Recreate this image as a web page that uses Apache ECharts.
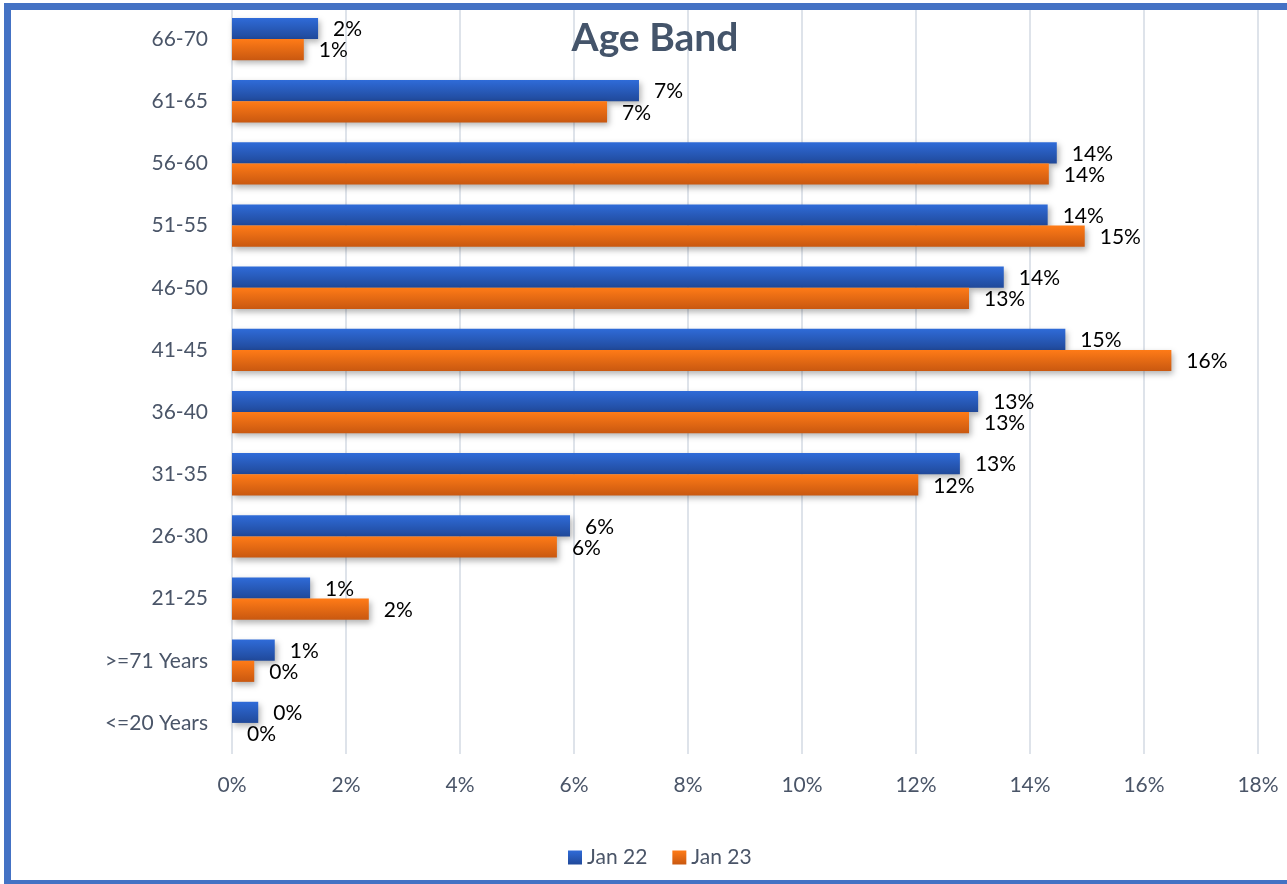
<!DOCTYPE html>
<html>
<head>
<meta charset="utf-8">
<script src="https://cdn.jsdelivr.net/npm/echarts@6/dist/echarts.min.js"></script>
<style>
  html, body { margin: 0; padding: 0; background: #fff; overflow: hidden; }
  #wrap { position: relative; width: 1287px; height: 884px; overflow: hidden; }
  #chart { position: absolute; left: 0; top: 0; width: 1287px; height: 884px; }
  /* blue frame; its right edge runs past the page */
  #frame {
    position: absolute; left: 4px; top: 3px; width: 1400px; height: 870px;
    border: 7px solid #4472C4; border-right: none; pointer-events: none;
  }
</style>
</head>
<body>
<div id="wrap">
  <div id="chart"></div>
  <div id="frame"></div>
</div>
<script>
// Age bands, listed from the bottom of the chart to the top
const categories = ['<=20 Years', '>=71 Years', '21-25', '26-30', '31-35', '36-40',
                    '41-45', '46-50', '51-55', '56-60', '61-65', '66-70'];

// Share of headcount per age band (%)
const jan22 = [0.46, 0.75, 1.37, 5.93, 12.77, 13.09, 14.62, 13.54, 14.31, 14.47, 7.14, 1.51];
const jan23 = [0.00, 0.39, 2.40, 5.70, 12.04, 12.93, 16.48, 12.93, 14.96, 14.33, 6.58, 1.26];

// Percent axis ticks
const xTicks = [0, 2, 4, 6, 8, 10, 12, 14, 16, 18];

const FONT = 'Lato, "Open Sans", sans-serif';
const AXIS_TEXT = '#4A5568';

function vGrad(top, bottom) {
  return new echarts.graphic.LinearGradient(0, 0, 0, 1, [
    { offset: 0, color: top },
    { offset: 1, color: bottom }
  ]);
}

const barLabel = {
  show: true,
  position: 'right',
  distance: 15,
  offset: [0, 1],
  color: '#000',
  fontFamily: FONT,
  fontSize: 21,
  formatter: p => Math.round(p.value) + '%'
};

const shadow = {
  shadowBlur: 6,
  shadowOffsetX: 2,
  shadowOffsetY: 3,
  shadowColor: 'rgba(0,0,0,0.30)'
};

const chart = echarts.init(document.getElementById('chart'), null, { renderer: 'canvas' });

chart.setOption({
  animation: false,
  backgroundColor: '#fff',
  textStyle: { fontFamily: FONT },
  title: {
    text: 'Age Band',
    left: 650,
    textAlign: 'center',
    top: 14,
    textStyle: { fontFamily: FONT, fontSize: 39, fontWeight: 'bold', color: '#44546A' }
  },
  legend: {
    left: 563,
    top: 842,
    itemWidth: 14,
    itemHeight: 14,
    itemGap: 25,
    icon: 'rect',
    textStyle: { fontFamily: FONT, fontSize: 21, color: AXIS_TEXT },
    data: ['Jan 22', 'Jan 23']
  },
  grid: { left: 232, right: 29, top: 8, bottom: 130, containLabel: false },
  xAxis: {
    type: 'value',
    min: xTicks[0],
    max: xTicks[xTicks.length - 1],
    interval: xTicks[1] - xTicks[0],
    axisLine: { show: false },
    axisTick: { show: false },
    axisLabel: { margin: 21, color: AXIS_TEXT, fontFamily: FONT, fontSize: 21, formatter: v => v + '%' },
    splitLine: { show: true, lineStyle: { color: '#DEE3EA', width: 2 } }
  },
  yAxis: {
    type: 'category',
    data: categories,
    axisLine: { show: false },
    axisTick: { show: false },
    axisLabel: { margin: 24, color: AXIS_TEXT, fontFamily: FONT, fontSize: 21 }
  },
  series: [
    {
      name: 'Jan 22',
      type: 'bar',
      data: jan22,
      barGap: '0%',
      barCategoryGap: '32%',
      itemStyle: Object.assign({ color: vGrad('#2F6BD8', '#20499A') }, shadow),
      label: barLabel
    },
    {
      name: 'Jan 23',
      type: 'bar',
      data: jan23,
      barGap: '0%',
      barCategoryGap: '32%',
      itemStyle: Object.assign({ color: vGrad('#FF7B17', '#C95810') }, shadow),
      label: barLabel
    }
  ]
});
</script>
</body>
</html>
